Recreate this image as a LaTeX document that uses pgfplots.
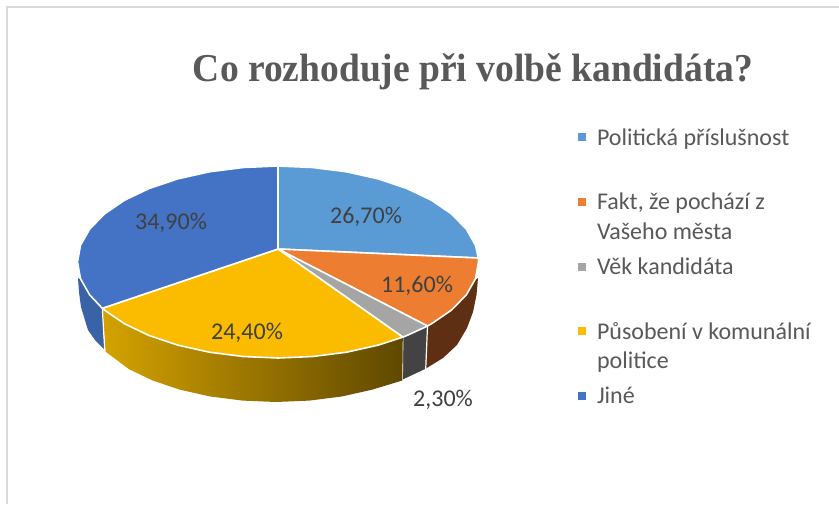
\documentclass[border=0pt]{standalone}
\usepackage{pgfplots}
\pgfplotsset{compat=1.18}
\usepackage{graphicx}
\usepackage{fontspec}
\setmainfont{Carlito}
\newfontfamily\titlefont{Liberation Serif}
\definecolor{cBlue}{HTML}{5B9BD5}
\definecolor{cOrange}{HTML}{ED7D31}
\definecolor{cGray}{HTML}{A5A5A5}
\definecolor{cYellow}{HTML}{FBBC00}
\definecolor{cDeep}{HTML}{4472C4}
\definecolor{wBrown}{HTML}{5E2F12}
\definecolor{wGray}{HTML}{434343}
\definecolor{wYelL}{HTML}{D4A200}
\definecolor{wYelR}{HTML}{5F4800}
\definecolor{wDeep}{HTML}{3A62A6}
\definecolor{txtL}{HTML}{595959}
\definecolor{txtD}{HTML}{404040}
\begin{document}
\begin{tikzpicture}
\begin{axis}[
  width=839pt,height=504pt,scale only axis,
  xmin=0,xmax=839,ymin=0,ymax=504,y dir=reverse,
  hide axis,clip=true,
  every node/.style={inner sep=0pt,outer sep=0pt},
]
% canvas and frame
\addplot[fill=white,draw=none] coordinates {(0,0)(839,0)(839,504)(0,504)} -- cycle;
\addplot[draw=black!15,line width=2pt] coordinates {(6.5,504)(6.5,7)(839,7)};
% side walls
\addplot[fill=wDeep,draw=none] coordinates {(78,278)(79,292)(81,307)(88,330)(95,340)(104.3,349.5)(102.3,308.3)(89.6,294.8)(81.5,280)} -- cycle;
\addplot[fill=wBrown,draw=none] coordinates {(478,278)(476.5,295)(473,312)(467,328)(457,345)(443,358)(426,368.5)(427.5,326)(431.6,323.7)(451.6,310)(466.4,294.8)(475.5,280)} -- cycle;
\addplot[fill=wGray,draw=white,line width=1.2pt] coordinates {(402.8,337.1)(427.5,326)(425.7,369.5)(402.3,380.5)} -- cycle;
\addplot[left color=wYelL,right color=wYelR,draw=none] coordinates {(102.3,308.3)(124.4,323.7)(149.1,335.5)(177.7,345.1)(209.4,352.2)(243.2,356.5)(278,358)(312.8,356.5)(346.6,352.2)(378.3,345.1)(402.8,337.1)(402.3,380.5)(372,389.7)(341.7,396.5)(309.3,400.6)(276,402)(242.7,400.6)(210.3,396.5)(180,389.7)(152.6,380.5)(128.9,369.1)(105.5,351.5)} -- cycle;
\addplot[draw=white,line width=1.2pt] coordinates {(102.3,308.3)(104.8,351)};
% top faces
\addplot[fill=cBlue,draw=white,line width=1.6pt,line join=round] coordinates {(278,249)(278,166)(312.8,167.5)(346.6,171.8)(378.3,178.9)(406.9,188.5)(431.6,200.3)(451.6,214)(466.4,229.2)(475.5,245.3)(478.3,258)} -- cycle;
\addplot[fill=cOrange,draw=white,line width=1.6pt,line join=round] coordinates {(278,249)(478.3,258)(478.5,262)(475.5,278.7)(466.4,294.8)(451.6,310)(431.6,323.7)(427.5,326)} -- cycle;
\addplot[fill=cGray,draw=white,line width=1.6pt,line join=round] coordinates {(278,249)(427.5,326)(406.9,335.5)(402.8,337.1)} -- cycle;
\addplot[fill=cYellow,draw=white,line width=1.6pt,line join=round] coordinates {(278,249)(402.8,337.1)(378.3,345.1)(346.6,352.2)(312.8,356.5)(278,358)(243.2,356.5)(209.4,352.2)(177.7,345.1)(149.1,335.5)(124.4,323.7)(104.4,310)(102.3,308.3)} -- cycle;
\addplot[fill=cDeep,draw=white,line width=1.6pt,line join=round] coordinates {(278,249)(102.3,308.3)(89.6,294.8)(80.5,278.7)(77.5,262)(80.5,245.3)(89.6,229.2)(104.4,214)(124.4,200.3)(149.1,188.5)(177.7,178.9)(209.4,171.8)(243.2,167.5)(278,166)} -- cycle;
% legend swatches
\addplot[only marks,cBlue,mark=square*,mark size=3.7pt,mark options={draw=cBlue,fill=cBlue,line width=0pt}] coordinates {(582,137)};
\addplot[only marks,cOrange,mark=square*,mark size=3.7pt,mark options={draw=cOrange,fill=cOrange,line width=0pt}] coordinates {(582,202)};
\addplot[only marks,cGray,mark=square*,mark size=3.7pt,mark options={draw=cGray,fill=cGray,line width=0pt}] coordinates {(582,267)};
\addplot[only marks,cYellow,mark=square*,mark size=3.7pt,mark options={draw=cYellow,fill=cYellow,line width=0pt}] coordinates {(582,331)};
\addplot[only marks,cDeep,mark=square*,mark size=3.7pt,mark options={draw=cDeep,fill=cDeep,line width=0pt}] coordinates {(582,396)};
% title
\node[anchor=base,text=txtL] at (axis cs:473,81) {\titlefont\bfseries\fontsize{39.5}{44}\selectfont\scalebox{0.95}[1]{Co rozhoduje při volbě kandidáta?}};
% data labels
\node[text=txtD] at (axis cs:366,217) {\fontsize{24}{28}\selectfont 26,70\%};
\node[text=txtD] at (axis cs:417,286) {\fontsize{24}{28}\selectfont 11,60\%};
\node[text=txtD] at (axis cs:247,333) {\fontsize{24}{28}\selectfont 24,40\%};
\node[text=txtD] at (axis cs:171,222.5) {\fontsize{24}{28}\selectfont 34,90\%};
\node[text=txtD] at (axis cs:443,400) {\fontsize{24}{28}\selectfont 2,30\%};
% legend text
\node[anchor=base west,text=txtL] at (axis cs:593.5,145) {\fontsize{24}{28}\selectfont Politická příslušnost};
\node[anchor=base west,text=txtL] at (axis cs:593.5,209) {\fontsize{24}{28}\selectfont Fakt, že pochází z};
\node[anchor=base west,text=txtL] at (axis cs:593.5,239) {\fontsize{24}{28}\selectfont Vašeho města};
\node[anchor=base west,text=txtL] at (axis cs:593.5,274) {\fontsize{24}{28}\selectfont Věk kandidáta};
\node[anchor=base west,text=txtL] at (axis cs:593.5,339) {\fontsize{24}{28}\selectfont Působení v komunální};
\node[anchor=base west,text=txtL] at (axis cs:593.5,368) {\fontsize{24}{28}\selectfont politice};
\node[anchor=base west,text=txtL] at (axis cs:593.5,403) {\fontsize{24}{28}\selectfont Jiné};
\end{axis}
\end{tikzpicture}
\end{document}
